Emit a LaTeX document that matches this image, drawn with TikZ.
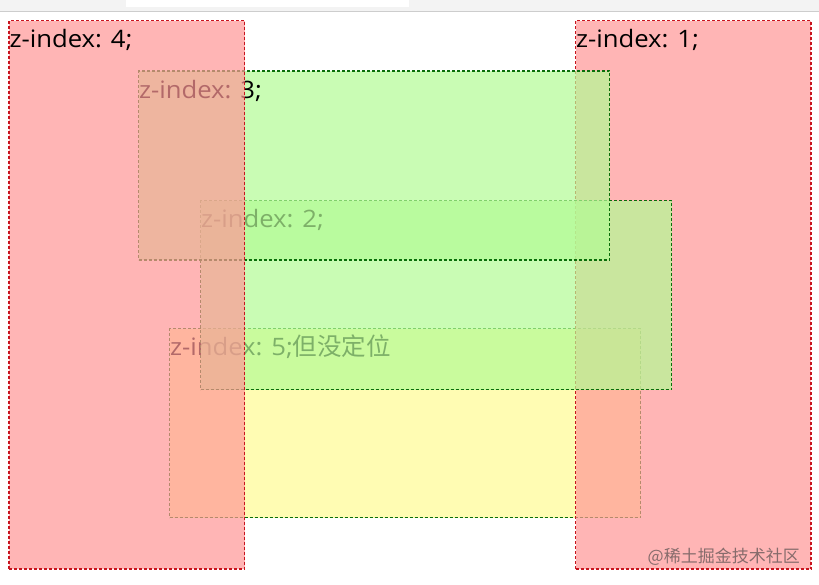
\documentclass[tikz,border=0pt]{standalone}
\usepackage{fontspec}
\setmainfont[FakeStretch=1.07]{Open Sans}
\newfontfamily\cjk{Noto Sans CJK SC}
\definecolor{redfill}{RGB}{255,151,151}
\definecolor{greenfill}{RGB}{179,251,149}
\definecolor{yellowfill}{RGB}{255,252,148}
\definecolor{redborder}{RGB}{200,20,30}
\definecolor{greenborder}{RGB}{10,110,10}
\definecolor{chromegray}{RGB}{243,243,243}
\definecolor{chromeline}{RGB}{205,205,205}
\definecolor{markgray}{RGB}{135,108,108}
\tikzset{
  layerbox/.style={rectangle, inner sep=0pt, outer sep=0pt, anchor=north west,
    fill opacity=0.7, draw opacity=1, line width=1.1pt, dash pattern=on 3pt off 2pt},
  redbox/.style={layerbox, fill=redfill, draw=redborder, minimum width=235.5pt, minimum height=548.5pt},
  greenbox/.style={layerbox, fill=greenfill, draw=greenborder, minimum width=471pt, minimum height=189pt},
  yellowbox/.style={layerbox, fill=yellowfill, draw=greenborder, minimum width=471pt, minimum height=189pt},
  lbl/.style={anchor=base west, inner sep=0pt, outer sep=0pt, text=black, font=\fontsize{24}{28}\selectfont},
  wmark/.style={anchor=base east, inner sep=0pt, text=markgray, font=\cjk\fontsize{17}{20}\selectfont}
}
\begin{document}
\begin{tikzpicture}[x=1pt,y=-1pt]
\useasboundingbox (0,0) rectangle (819,584);
\fill[white] (0,0) rectangle (819,584);
% browser chrome
\fill[chromegray] (0,0) rectangle (819,11);
\fill[white] (126,0) rectangle (409,7);
\draw[chromeline, line width=1pt] (0,11.5) -- (819,11.5);
% non-positioned box (painted first)
\node[yellowbox] (b5) at (169.5,328.5) {};
\node[lbl] (t5) at (170,355) {z-index: 5;{\cjk\fontsize{24.5}{28}\selectfont 但没定位}};
% z-index 1
\node[redbox] (b1) at (575.5,20.5) {};
\node[lbl] (t1) at (576,47) {z-index: 1;};
% z-index 2
\node[greenbox] (b2) at (200.5,200.5) {};
\node[lbl] (t2) at (201,227) {z-index: 2;};
% z-index 3
\node[greenbox] (b3) at (138.5,71) {};
\node[lbl] (t3) at (139,98) {z-index: 3;};
% z-index 4
\node[redbox] (b4) at (9,20.5) {};
\node[lbl] (t4) at (9.5,47) {z-index: 4;};
% watermark
\node[wmark] (wm) at (800,562) {@稀土掘金技术社区};
\end{tikzpicture}
\end{document}
